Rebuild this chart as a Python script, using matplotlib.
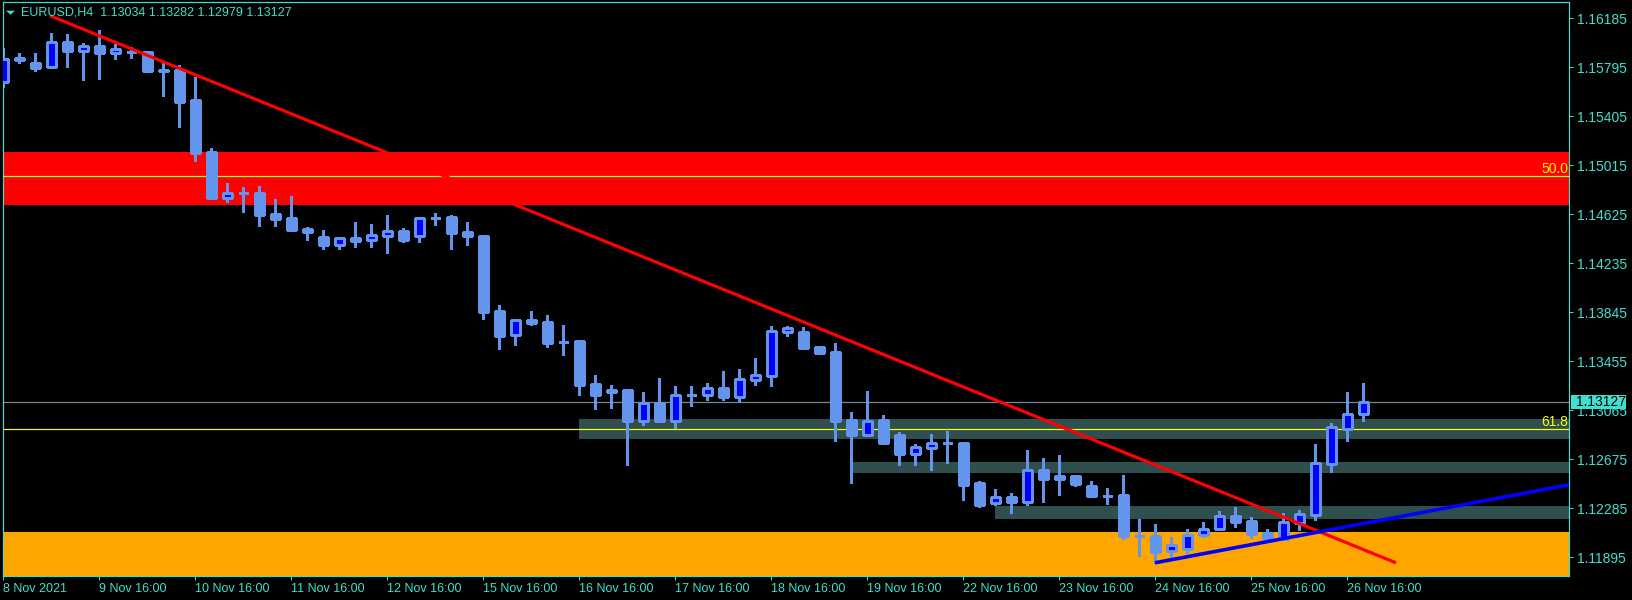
#!/usr/bin/env python3
"""EURUSD H4 candlestick chart, MT4 style, with zones, fibo levels and trendlines."""

import matplotlib

matplotlib.use("Agg")
import matplotlib.pyplot as plt  # noqa: E402
import matplotlib.transforms as mtransforms  # noqa: E402
import numpy as np  # noqa: E402
from matplotlib.patches import Polygon, Rectangle  # noqa: E402

SYMBOL = "EURUSD,H4"

opens = [
    1.15678, 1.15867, 1.15827, 1.15798, 1.15994, 1.15925, 1.15962, 1.15909, 1.15914, 1.15915,
    1.15769, 1.15771, 1.15533, 1.15119, 1.14756, 1.14793, 1.14793, 1.14626, 1.14594, 1.14507,
    1.14443, 1.14382, 1.14435, 1.14421, 1.14453, 1.14491, 1.14453, 1.14596, 1.14602, 1.14483,
    1.14451, 1.13855, 1.13666, 1.13783, 1.13767, 1.13608, 1.13616, 1.13274, 1.13207, 1.13225,
    1.12979, 1.13123, 1.12979, 1.13184, 1.13186, 1.13242, 1.13171, 1.13306, 1.13337, 1.13690,
    1.13688, 1.13568, 1.13528, 1.12987, 1.12868, 1.12987, 1.12868, 1.12717, 1.12765, 1.12803,
    1.12805, 1.12486, 1.12329, 1.12374, 1.12335, 1.12593, 1.12518, 1.12543, 1.12463, 1.12384,
    1.12391, 1.12065, 1.12065, 1.11944, 1.11964, 1.12074, 1.12124, 1.12224, 1.12184, 1.12089,
    1.12041, 1.12171, 1.12235, 1.12640, 1.12918, 1.13034,
]
highs = [
    1.15944, 1.15904, 1.15904, 1.16068, 1.16058, 1.15989, 1.16090, 1.15978, 1.15957, 1.15925,
    1.15825, 1.15811, 1.15718, 1.15151, 1.14873, 1.14838, 1.14849, 1.14745, 1.14769, 1.14525,
    1.14499, 1.14443, 1.14562, 1.14546, 1.14618, 1.14515, 1.14596, 1.14634, 1.14618, 1.14562,
    1.14459, 1.13902, 1.13791, 1.13855, 1.13823, 1.13743, 1.13624, 1.13345, 1.13266, 1.13234,
    1.13210, 1.13323, 1.13258, 1.13258, 1.13282, 1.13377, 1.13393, 1.13481, 1.13736, 1.13736,
    1.13727, 1.13576, 1.13600, 1.13051, 1.13218, 1.13027, 1.12891, 1.12797, 1.12876, 1.12900,
    1.12806, 1.12502, 1.12440, 1.12407, 1.12749, 1.12685, 1.12709, 1.12552, 1.12502, 1.12446,
    1.12552, 1.12200, 1.12163, 1.12057, 1.12119, 1.12174, 1.12263, 1.12296, 1.12216, 1.12119,
    1.12248, 1.12271, 1.12797, 1.12963, 1.13210, 1.13282,
]
lows = [
    1.15634, 1.15825, 1.15766, 1.15790, 1.15798, 1.15692, 1.15702, 1.15859, 1.15869, 1.15760,
    1.15565, 1.15320, 1.15048, 1.14754, 1.14724, 1.14644, 1.14531, 1.14531, 1.14491, 1.14419,
    1.14348, 1.14348, 1.14363, 1.14363, 1.14316, 1.14403, 1.14403, 1.14539, 1.14348, 1.14379,
    1.13791, 1.13552, 1.13584, 1.13743, 1.13568, 1.13505, 1.13186, 1.13075, 1.13083, 1.12630,
    1.12948, 1.12972, 1.12924, 1.13099, 1.13147, 1.13147, 1.13131, 1.13266, 1.13258, 1.13652,
    1.13552, 1.13512, 1.12820, 1.12486, 1.12860, 1.12797, 1.12630, 1.12630, 1.12593, 1.12646,
    1.12352, 1.12296, 1.12313, 1.12248, 1.12313, 1.12335, 1.12391, 1.12462, 1.12375, 1.12319,
    1.12041, 1.11907, 1.11852, 1.11898, 1.11930, 1.12057, 1.12113, 1.12136, 1.12049, 1.12033,
    1.12033, 1.12113, 1.12192, 1.12574, 1.12820, 1.12979,
]
closes = [
    1.15857, 1.15855, 1.15790, 1.15994, 1.15925, 1.15962, 1.15909, 1.15936, 1.15916, 1.15763,
    1.15767, 1.15517, 1.15111, 1.14756, 1.14793, 1.14790, 1.14618, 1.14586, 1.14499, 1.14483,
    1.14379, 1.14433, 1.14411, 1.14459, 1.14491, 1.14419, 1.14594, 1.14598, 1.14477, 1.14453,
    1.13849, 1.13658, 1.13780, 1.13761, 1.13600, 1.13606, 1.13266, 1.13186, 1.13225, 1.12979,
    1.13123, 1.12979, 1.13186, 1.13186, 1.13242, 1.13171, 1.13314, 1.13345, 1.13696, 1.13717,
    1.13560, 1.13519, 1.12979, 1.12868, 1.12979, 1.12805, 1.12717, 1.12774, 1.12805, 1.12805,
    1.12474, 1.12313, 1.12374, 1.12335, 1.12593, 1.12518, 1.12543, 1.12479, 1.12383, 1.12386,
    1.12065, 1.12063, 1.11941, 1.11997, 1.12074, 1.12119, 1.12224, 1.12174, 1.12081, 1.12049,
    1.12174, 1.12240, 1.12646, 1.12932, 1.13035, 1.13127,
]

time_labels = [
    "8 Nov 2021", "9 Nov 16:00", "10 Nov 16:00", "11 Nov 16:00", "12 Nov 16:00",
    "15 Nov 16:00", "16 Nov 16:00", "17 Nov 16:00", "18 Nov 16:00", "19 Nov 16:00",
    "22 Nov 16:00", "23 Nov 16:00", "24 Nov 16:00", "25 Nov 16:00", "26 Nov 16:00",
]
time_label_bars = [0, 6, 12, 18, 24, 30, 36, 42, 48, 54, 60, 66, 72, 78, 84]

price_ticks = [
    1.11895, 1.12285, 1.12675, 1.13065, 1.13455, 1.13845,
    1.14235, 1.14625, 1.15015, 1.15405, 1.15795, 1.16185,
]

# chart objects
red_zone = (1.14700, 1.15119)
orange_zone = (1.11600, 1.12097)
grey_zone_start = [36, 53, 62]
grey_zone_low = [1.12836, 1.12568, 1.12200]
grey_zone_high = [1.12996, 1.12653, 1.12303]
fibo_levels = [1.14926, 1.12914]
fibo_names = ["50.0", "61.8"]

red_trend_bars = [2.92, 87.04]
red_trend_prices = [1.16203, 1.11852]
blue_trend_bars = [71.98, 94.79]
blue_trend_prices = [1.11852, 1.12399]

AXIS = "#40E0D0"
BULL = "#0000FF"
CANDLE = "#6495ED"
FONT = ["Liberation Sans", "DejaVu Sans"]
PX = 0.72  # one pixel in points at dpi 100

plt.rcParams["font.family"] = FONT

fig = plt.figure(figsize=(16.33, 6.0), dpi=100, facecolor="black")
ax = fig.add_axes([2.7 / 1633, 24 / 600, 1566.6 / 1633, 573.7 / 600], facecolor="black")

x_max = 97.875
ax.set_xlim(-0.04, x_max)
ax.set_ylim(1.11747, 1.16310)

# zones
ax.axhspan(*red_zone, color="#FF0000", lw=0, zorder=0.5)
ax.axhspan(*orange_zone, color="#FFA500", lw=0, zorder=0.5)
for x0, lo, hi in zip(grey_zone_start, grey_zone_low, grey_zone_high):
    ax.add_patch(Rectangle((x0, lo), x_max + 1 - x0, hi - lo, facecolor="#2F4F4F",
                           lw=0, zorder=0.6))

# fibo levels and bid line
blend = mtransforms.blended_transform_factory(ax.transAxes, ax.transData)
for level, name in zip(fibo_levels, fibo_names):
    ax.axhline(level, color="#FFFF00", lw=PX * 1.2, zorder=1)
    ax.text(0.9995, level + 0.00006, name, transform=blend, ha="right", va="bottom",
            color="#FFFF00", fontsize=10, zorder=1)
ax.axhline(closes[-1], color="#778899", lw=PX * 1.2, zorder=1)

# candles
x = np.arange(len(opens))
ax.vlines(x, lows, highs, color=CANDLE, lw=PX * 1.1, zorder=2, antialiased=False)
body_w = 0.6
for i, (o, c) in enumerate(zip(opens, closes)):
    lo, hi = min(o, c), max(o, c)
    face = BULL if c > o else CANDLE
    ax.add_patch(Rectangle((i - body_w / 2, lo), body_w, max(hi - lo, 0.00001),
                           facecolor=face, edgecolor=CANDLE, lw=PX * 1.1, zorder=3,
                           antialiased=False))

# trendlines: red segment, blue ray to the right edge
ax.plot(red_trend_bars, red_trend_prices, color="#FF0000", lw=2.3, zorder=4,
        solid_capstyle="butt")
slope = (blue_trend_prices[1] - blue_trend_prices[0]) / (blue_trend_bars[1] - blue_trend_bars[0])
blue_end = blue_trend_prices[0] + slope * (x_max - blue_trend_bars[0])
ax.plot([blue_trend_bars[0], x_max], [blue_trend_prices[0], blue_end], color="#0000FF",
        lw=2.6, zorder=4, solid_capstyle="butt")

# axes styling
for sp in ax.spines.values():
    sp.set_color(AXIS)
    sp.set_linewidth(PX * 1.2)
ax.yaxis.tick_right()
ax.set_yticks(price_ticks)
ax.set_yticklabels([f"{p:.5f}" for p in price_ticks])
ax.set_xticks(time_label_bars)
ax.set_xticklabels(time_labels)
for lbl in ax.get_xticklabels():
    lbl.set_horizontalalignment("left")
ax.tick_params(axis="y", colors=AXIS, length=3.2, width=PX, pad=2.5, labelsize=10)
ax.tick_params(axis="x", colors=AXIS, length=3.2, width=PX, pad=1.5, labelsize=9)

# current price tag on the right scale
px_price = (1.16310 - 1.11747) / 573.7
ax.add_patch(Rectangle((1.0011, closes[-1] - 7 * px_price), 0.0353, 14 * px_price,
                       transform=blend, facecolor=AXIS, lw=0, clip_on=False, zorder=10))
ax.text(1.00428, closes[-1], f"{closes[-1]:.5f}", transform=blend, ha="left", va="center",
        color="black", fontsize=10, clip_on=False, zorder=11)

# header
fig.add_artist(Polygon([(6, 589.3), (15, 589.3), (10.5, 585.3)], closed=True,
                       facecolor=AXIS, lw=0, transform=mtransforms.IdentityTransform()))
header = f"{SYMBOL}  {opens[-1]:.5f} {highs[-1]:.5f} {lows[-1]:.5f} {closes[-1]:.5f}"
fig.text(21 / 1633, 1 - 12.3 / 600, header, color=AXIS, fontsize=9, va="center", ha="left")

fig.savefig("out.png", dpi=100, facecolor="black")
plt.close(fig)
